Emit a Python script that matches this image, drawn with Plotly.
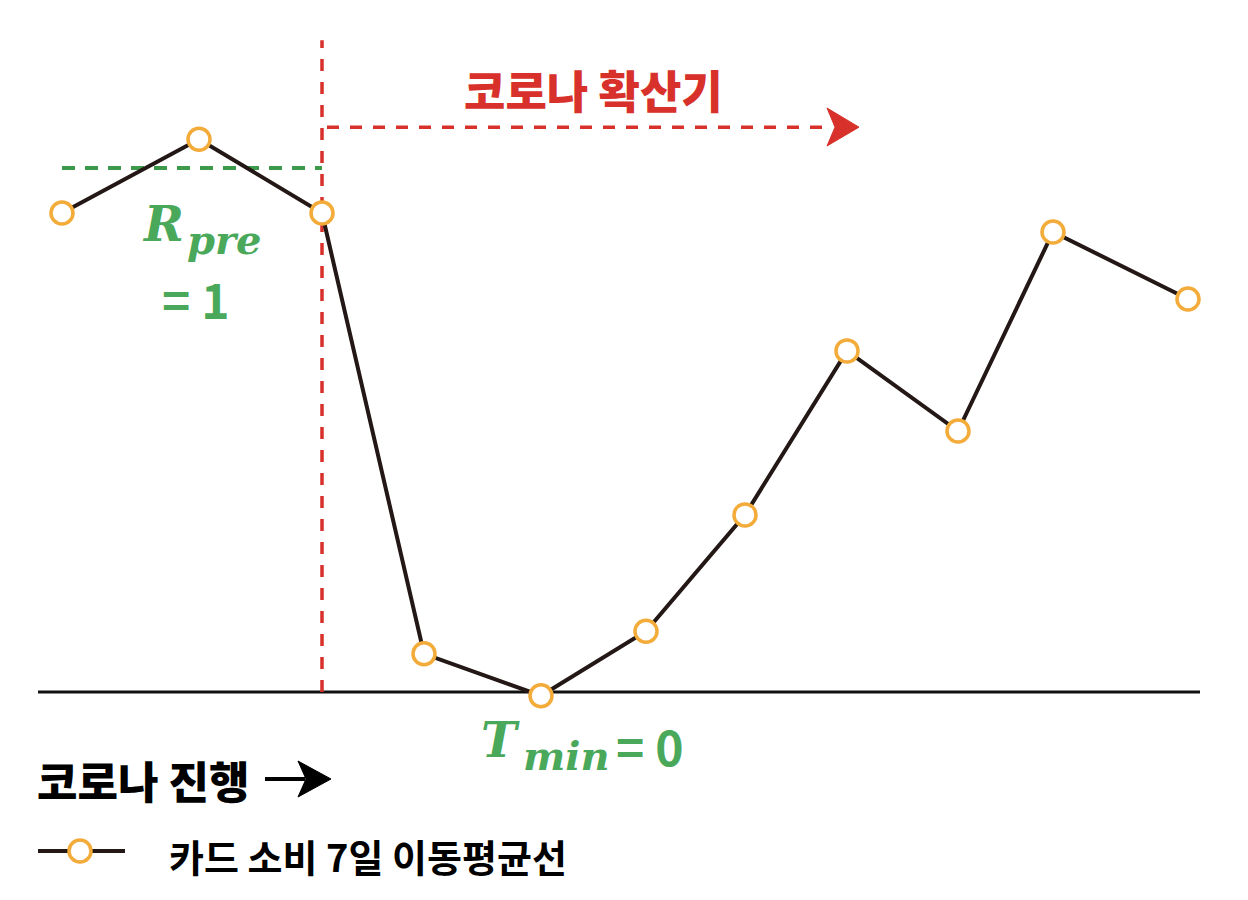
import plotly.graph_objects as go

# ---- data ----
days = [0.24, 1.61, 2.84, 3.86, 5.03, 6.08, 7.07, 8.09, 9.20, 10.15, 11.50]
spending = [0.914, 1.055, 0.914, 0.073, -0.007, 0.116, 0.338, 0.651, 0.498, 0.878, 0.750]
series_name = "카드 소비 7일 이동평균선"
r_pre_level = 1.0
t_min_level = 0.0
outbreak_day = 2.84

W, H = 1248, 900
GREEN = "#4aa85a"
GREEN_D = "#3e9a4b"
RED = "#d8312b"
ORANGE = "#f3ab3a"
DARK = "#231815"
KR = "Noto Sans CJK KR"
SERIF = "DejaVu Serif"


def px(x):
    return x / W


def py(y):
    return 1 - y / H


fig = go.Figure()
fig.add_trace(go.Scatter(
    x=days, y=spending, mode="lines+markers", name=series_name,
    line=dict(color=DARK, width=4),
    marker=dict(symbol="circle", size=22, color="white",
                line=dict(color=ORANGE, width=3.5)),
    showlegend=False, hoverinfo="skip",
))

shapes = []
# baseline
shapes.append(dict(type="line", xref="x", yref="y", x0=-0.0, x1=11.62,
                   y0=t_min_level, y1=t_min_level,
                   line=dict(color="#111111", width=3), layer="below"))
# R_pre dashed line
shapes.append(dict(type="line", xref="x", yref="y", x0=days[0], x1=outbreak_day,
                   y0=r_pre_level, y1=r_pre_level,
                   line=dict(color=GREEN_D, width=4, dash="13px,10px"), layer="below"))
# outbreak vertical dashed line
shapes.append(dict(type="line", xref="x", yref="y", x0=outbreak_day, x1=outbreak_day,
                   y0=0, y1=1.244,
                   line=dict(color=RED, width=3.5, dash="12px,11px"), layer="below"))
# red horizontal dashed arrow
shapes.append(dict(type="line", xref="x", yref="y", x0=2.89, x1=7.95,
                   y0=1.078, y1=1.078,
                   line=dict(color=RED, width=3.5, dash="12px,11px"), layer="below"))
shapes.append(dict(type="path", xref="x", yref="y",
                   path="M 8.21 1.078 L 7.89 1.1145 L 7.97 1.078 L 7.89 1.042 Z",
                   fillcolor=RED, line=dict(color=RED, width=1)))
# black arrow next to "코로나 진행"
shapes.append(dict(type="line", xref="paper", yref="paper",
                   x0=px(265), x1=px(305), y0=py(779), y1=py(779),
                   line=dict(color="black", width=4)))
shapes.append(dict(type="path", xref="paper", yref="paper",
                   path=f"M {px(331)} {py(779)} L {px(298)} {py(761)} L {px(306)} {py(779)} L {px(298)} {py(797)} Z",
                   fillcolor="black", line=dict(color="black", width=1)))
# legend marker
shapes.append(dict(type="line", xref="paper", yref="paper",
                   x0=px(38), x1=px(125), y0=py(851), y1=py(851),
                   line=dict(color=DARK, width=4)))
shapes.append(dict(type="circle", xref="paper", yref="paper",
                   x0=px(69), x1=px(91), y0=py(840), y1=py(862),
                   fillcolor="white", line=dict(color=ORANGE, width=3.5)))

ann = []


def text(t, x, y, size, color, family=KR, xanchor="left", weight="bold", italic=False):
    ann.append(dict(text=t, x=px(x), y=py(y), xref="paper", yref="paper",
                    showarrow=False, xanchor=xanchor, yanchor="middle", borderpad=0,
                    font=dict(size=size, color=color, family=family, weight=weight,
                              style="italic" if italic else "normal")))


text("코로나 확산기", 593, 90, 45, RED, xanchor="center", weight=900)
text("코로나 진행", 36, 780, 44, "black", weight=900)
text(series_name, 168, 855, 38, "black", weight=600)
text("R", 185, 224, 48, GREEN, family=SERIF, xanchor="right", italic=True)
text("pre", 186, 240, 40, GREEN, family=SERIF, italic=True)
text("= 1", 196, 298, 48, GREEN, xanchor="center")
text("T", 521, 740, 48, GREEN, family=SERIF, xanchor="right", italic=True)
text("min", 522, 755, 40, GREEN, family=SERIF, italic=True)
text("= 0", 615, 745, 48, GREEN)

fig.update_layout(
    width=W, height=H, margin=dict(l=0, r=0, t=0, b=0),
    paper_bgcolor="white", plot_bgcolor="white",
    xaxis=dict(range=[-0.38, 12.10], visible=False, fixedrange=True),
    yaxis=dict(range=[-0.3969, 1.3206], visible=False, fixedrange=True),
    shapes=shapes, annotations=ann, showlegend=False,
)

fig.write_html("out.html", config={"displayModeBar": False},
               post_script="document.body.style.margin='0';")
